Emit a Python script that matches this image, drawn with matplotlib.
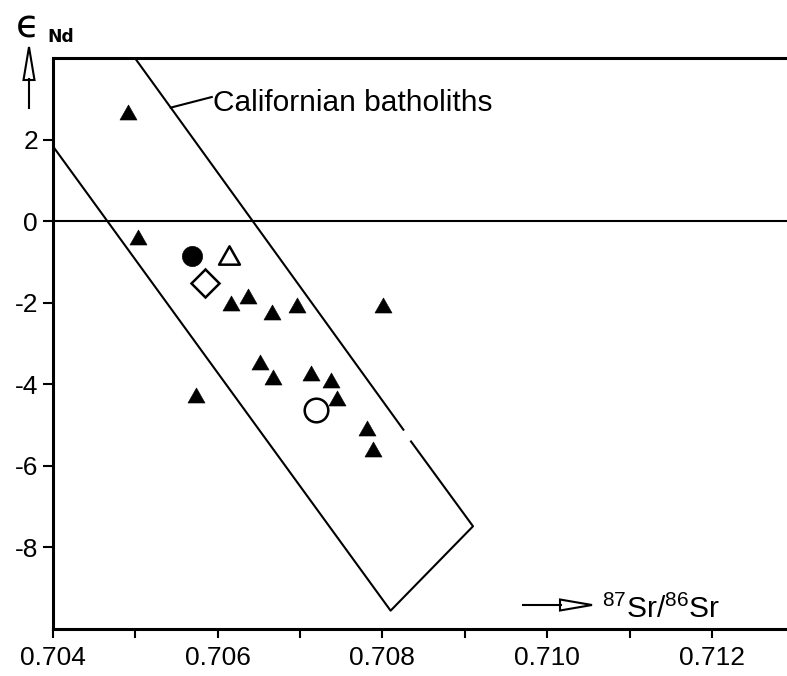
import matplotlib
matplotlib.use('Agg')
import matplotlib.pyplot as plt
from matplotlib import font_manager as fm
from matplotlib.lines import Line2D
from matplotlib.patches import Polygon
from matplotlib.path import Path

plt.rcParams['axes.unicode_minus'] = False
plt.rcParams['mathtext.fontset'] = 'custom'
plt.rcParams['mathtext.rm'] = 'Liberation Sans'
plt.rcParams['mathtext.it'] = 'Liberation Sans:italic'
plt.rcParams['mathtext.bf'] = 'Liberation Sans:bold'

# ---------------- data ----------------
# filled triangles
tri_x = [0.70491, 0.70503, 0.70616, 0.70637, 0.70666, 0.70697, 0.70801,
         0.70652, 0.70667, 0.70574, 0.70714, 0.70738, 0.70745, 0.70781, 0.70789]
tri_y = [2.68, -0.38, -2.00, -1.82, -2.22, -2.05, -2.05,
         -3.44, -3.82, -4.25, -3.72, -3.90, -4.33, -5.07, -5.58]
# other symbols
filled_circle_x = [0.70569]
filled_circle_y = [-0.84]
open_triangle_x = [0.70614]
open_triangle_y = [-0.82]
open_diamond_x = [0.70585]
open_diamond_y = [-1.51]
open_circle_x = [0.70719]
open_circle_y = [-4.62]

# Californian batholiths field outline (drawn in two pieces, gap in upper line)
band1_x = [0.70500, 0.708255]
band1_y = [4.00, -5.11]
band2_x = [0.708348, 0.70910, 0.70810, 0.70400]
band2_y = [-5.40, -7.48, -9.55, 1.85]
leader_x = [0.705432, 0.70593]
leader_y = [2.79, 3.05]
field_label = 'Californian batholiths'

xticks_major = [0.704, 0.706, 0.708, 0.710, 0.712]
xtick_labels = ['0.704', '0.706', '0.708', '0.710', '0.712']
xticks_minor = [0.705, 0.707, 0.709, 0.711]
yticks = [-8, -6, -4, -2, 0, 2]
ytick_labels = ['-8', '-6', '-4', '-2', '0', '2']

# ---------------- figure ----------------
W, H = 787, 676
fig = plt.figure(figsize=(W / 100, H / 100), dpi=100)
ax = fig.add_axes([52.7 / W, 1 - 629 / H, (W - 52.7) / W, (629 - 58.3) / H])
ax.set_xlim(0.704, 0.71291)
ax.set_ylim(-10, 4)

names = {f.name for f in fm.fontManager.ttflist}
if 'Liberation Sans Narrow' in names:
    tick_font, tick_size = 'Liberation Sans Narrow', 21.5
else:
    tick_font, tick_size = 'Liberation Sans', 19

for side in ['left', 'bottom', 'top']:
    ax.spines[side].set_linewidth(2.2)
ax.spines['right'].set_visible(False)

ax.set_xticks(xticks_major)
ax.set_xticklabels(xtick_labels, fontfamily=tick_font, fontsize=tick_size)
ax.set_xticks(xticks_minor, minor=True)
ax.set_yticks(yticks)
ax.set_yticklabels(ytick_labels, fontfamily=tick_font, fontsize=tick_size)
ax.tick_params(axis='x', which='both', direction='out', length=6.5, width=1.5, pad=5.5)
ax.tick_params(axis='y', which='both', direction='out', length=7.5, width=1.5, pad=3)

ax.axhline(0, color='black', lw=1.5, zorder=2)
ax.plot(band1_x, band1_y, color='black', lw=1.5, zorder=2)
ax.plot(band2_x, band2_y, color='black', lw=1.5, zorder=2)
ax.plot(leader_x, leader_y, color='black', lw=1.5, zorder=2)
ax.text(0.705947, 2.70, field_label, fontsize=21.5, family='Liberation Sans',
        ha='left', va='baseline')

tri_marker = Path([(-1, -0.88), (1, -0.88), (0, 0.88), (-1, -0.88)], closed=True)
ax.plot(tri_x, tri_y, linestyle='none', marker=tri_marker, ms=12.3,
        mfc='black', mec='black', mew=0.4, zorder=4)
ax.plot(filled_circle_x, filled_circle_y, linestyle='none', marker='o', ms=14.5,
        mfc='black', mec='black', mew=0.5, zorder=4)
ax.plot(open_triangle_x, open_triangle_y, linestyle='none', marker=tri_marker, ms=15.0,
        mfc='white', mec='black', mew=1.8, zorder=4)
ax.plot(open_diamond_x, open_diamond_y, linestyle='none', marker='D', ms=14.0,
        mfc='white', mec='black', mew=1.8, zorder=4)
ax.plot(open_circle_x, open_circle_y, linestyle='none', marker='o', ms=17.0,
        mfc='white', mec='black', mew=1.8, zorder=4)

# x-axis label with arrow
ax.text(0.710663, -9.73, r'$^{87}$Sr/$^{86}$Sr', fontsize=21.5, family='Liberation Sans',
        ha='left', va='baseline')


def P(x, y):
    return (x / W, 1 - y / H)


shaft = Line2D([P(523, 605)[0], P(561, 605)[0]], [P(523, 605)[1], P(561, 605)[1]],
               transform=fig.transFigure, color='black', lw=1.5)
fig.add_artist(shaft)
fig.add_artist(Polygon([P(560, 599.5), P(592, 605), P(560, 610.5)], closed=True,
                       fc='white', ec='black', lw=1.5, transform=fig.transFigure))

# y-axis label with arrow
shaft_y = Line2D([P(29, 108)[0], P(29, 79)[0]], [P(29, 108)[1], P(29, 79)[1]],
                 transform=fig.transFigure, color='black', lw=1.5)
fig.add_artist(shaft_y)
fig.add_artist(Polygon([P(23.5, 80), P(29, 47), P(34.5, 80)], closed=True,
                       fc='white', ec='black', lw=1.5, transform=fig.transFigure))
fig.text(16 / W, 1 - 38 / H, '\u03f5', fontsize=28, family='DejaVu Sans',
         ha='left', va='baseline')
fig.text(47 / W, 1 - 41.7 / H, 'Nd', fontsize=12.3, fontweight='bold',
         family='DejaVu Sans', ha='left', va='baseline')

fig.savefig('out.png', dpi=100)
